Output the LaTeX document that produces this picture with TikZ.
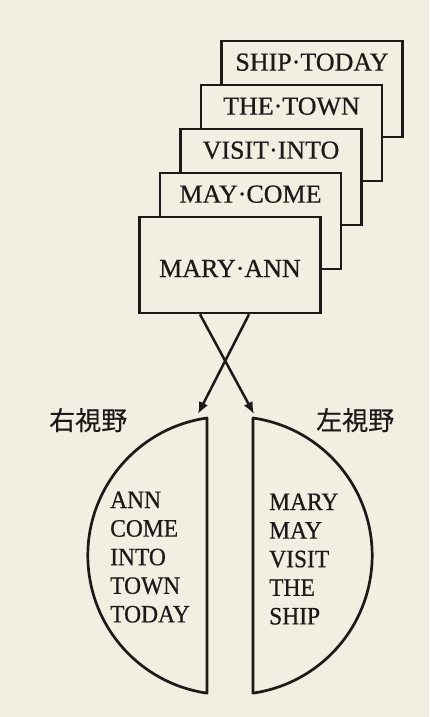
\documentclass[tikz,border=0pt]{standalone}
\usepackage{fontspec}
\setmainfont[FakeBold=0.6]{Liberation Serif}
\newfontfamily\narrowfont[FakeBold=0.6,FakeStretch=0.94]{Liberation Serif}
\newfontfamily\jpfont[FakeBold=0.3]{Noto Sans CJK JP}
\usetikzlibrary{arrows.meta}
\definecolor{paper}{RGB}{241,238,226}
\definecolor{ink}{RGB}{28,26,24}
\begin{document}
\begin{tikzpicture}[x=1pt,y=-1pt,
  card/.style={draw=ink, fill=paper, line width=2.7pt, minimum width=181pt, minimum height=96pt, inner sep=0pt},
  cardtext/.style={font=\fontsize{26}{30}\selectfont, text=ink, anchor=base, inner sep=0pt},
  fieldtext/.style={font=\narrowfont\fontsize{25}{28}\selectfont, text=ink, anchor=base west, inner sep=0pt},
  jplabel/.style={font=\jpfont\fontsize{26}{30}\selectfont, text=ink, anchor=base west, inner sep=0pt},
  half/.style={draw=ink, fill=paper, line width=2.7pt, line join=round},
  cross/.style={draw=ink, line width=2.5pt, -{Latex[length=12pt,width=10pt]}}
]
\useasboundingbox[fill=paper] (0,0) rectangle (429,717);

% stacked cards, back to front
\node[card] (ship)  at (312,89)   {};
\node[cardtext] (tship) at ([yshift=-31pt]ship.north) {SHIP·TODAY};
\node[card] (town)  at (291.5,133) {};
\node[cardtext] (ttown) at ([yshift=-31pt]town.north) {THE·TOWN};
\node[card] (visit) at (271,177)  {};
\node[cardtext] (tvisit) at ([yshift=-31pt]visit.north) {VISIT·INTO};
\node[card] (may)   at (250.5,221) {};
\node[cardtext] (tmay) at ([yshift=-31pt]may.north) {MAY·COME};
\node[card] (mary)  at (230,265)  {};
\node[cardtext] (tmary) at ([yshift=-12pt]mary.center) {MARY·ANN};

% visual field halves
\draw[half] (207,418) arc[start angle=98.2, end angle=261.8, radius=139pt] -- cycle;
\draw[half] (253,418) arc[start angle=81.8, end angle=-81.8, radius=139pt] -- cycle;

% crossing arrows
\coordinate (a1) at ([xshift=-30pt]mary.south);
\coordinate (a2) at ([xshift=19pt]mary.south);
\coordinate (lefttip) at (198,414);
\coordinate (righttip) at (254,414);
\draw[cross] (a1) -- (righttip);
\draw[cross] (a2) -- (lefttip);

% labels
\node[jplabel] (rv) at (49,430) {右視野};
\node[jplabel] (lv) at (316,430) {左視野};

\foreach \w [count=\i] in {ANN,COME,INTO,TOWN,TODAY}
  \node[fieldtext] (l\i) at (110,{508+28.6*(\i-1)}) {\w};
\foreach \w [count=\i] in {MARY,MAY,VISIT,THE,SHIP}
  \node[fieldtext] (r\i) at (269,{510+28.6*(\i-1)}) {\w};
\end{tikzpicture}
\end{document}
